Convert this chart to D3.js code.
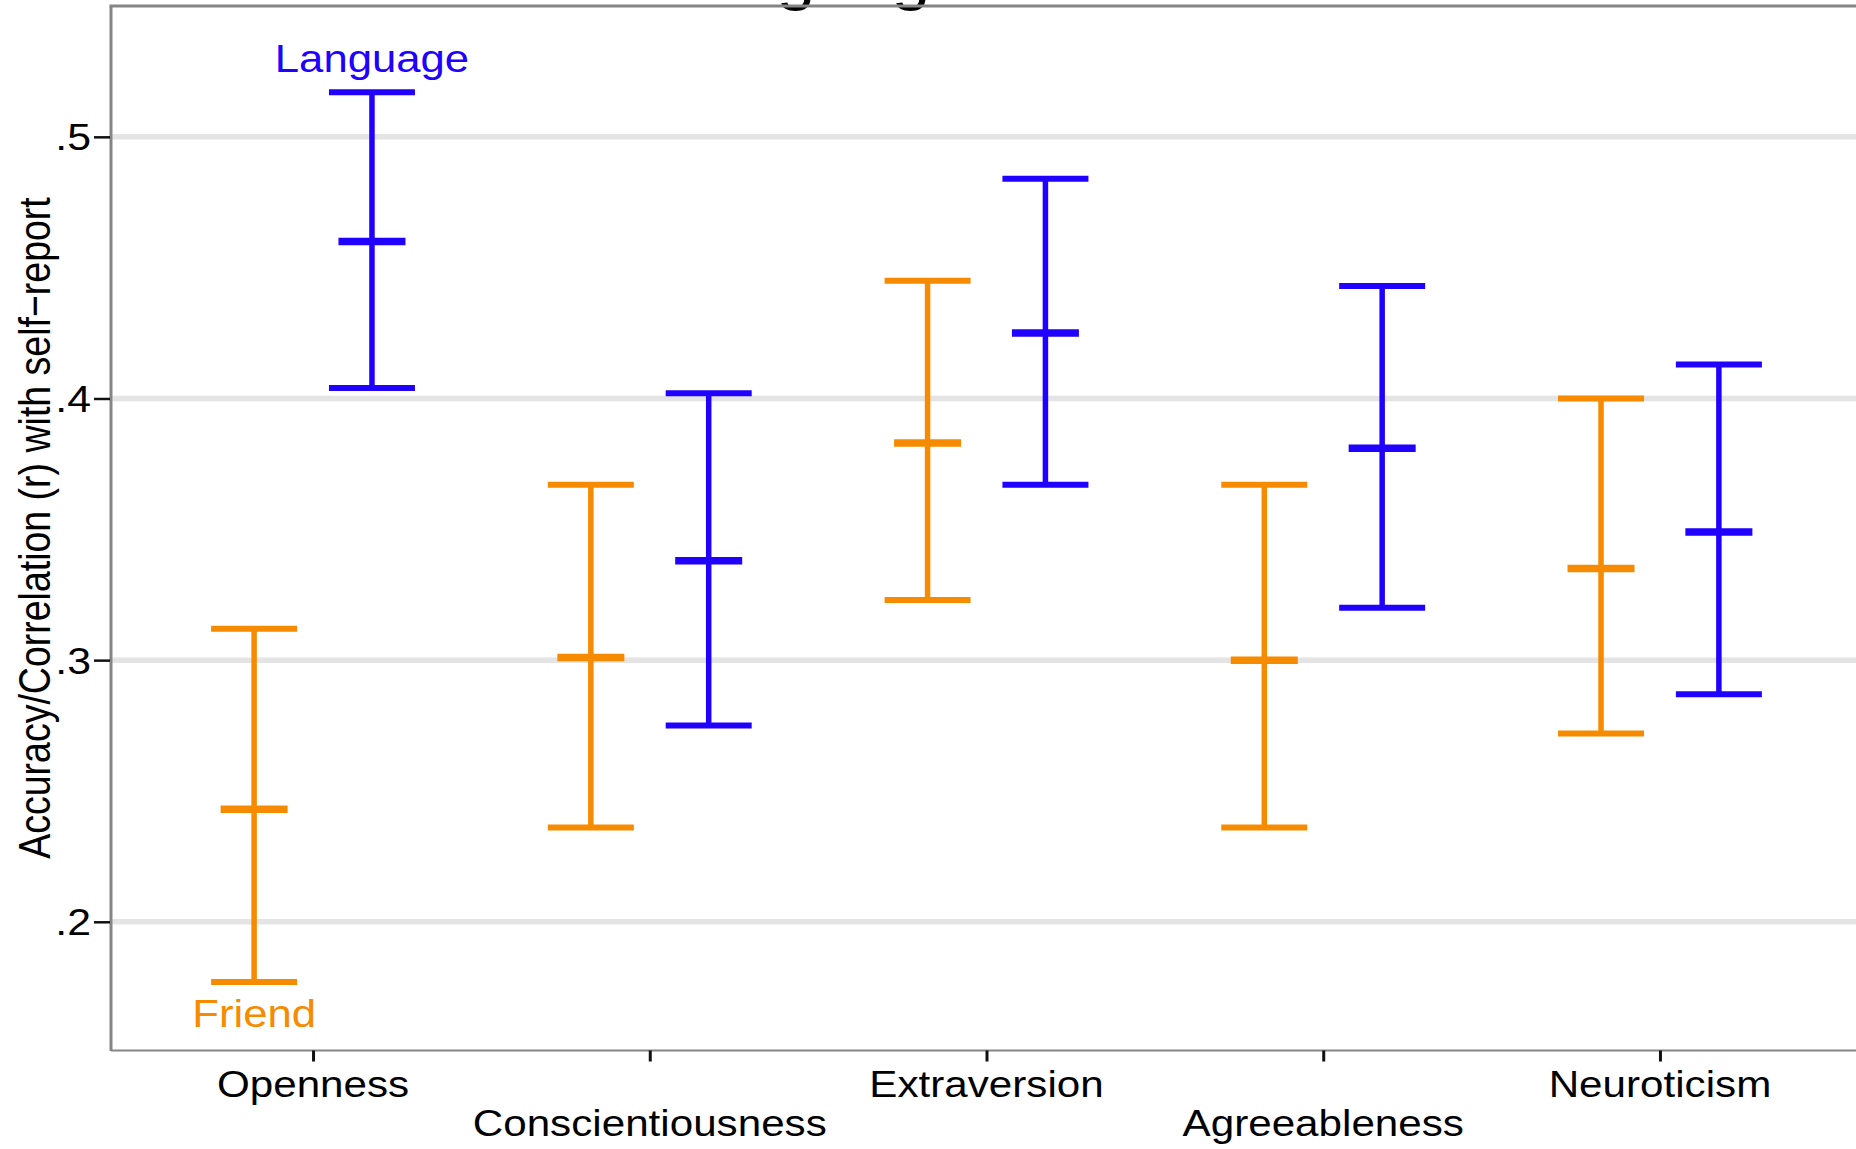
<!DOCTYPE html>
<html>
<head>
<meta charset="utf-8">
<script src="https://cdn.jsdelivr.net/npm/d3@7"></script>
<style>
  html, body { margin: 0; padding: 0; background: #fff; overflow: hidden; }
  svg { display: block; font-family: "Liberation Sans", Arial, Helvetica, sans-serif; }
</style>
</head>
<body>
<svg id="chart" width="1856" height="1149"></svg>
<script>
// Big Five traits and the two judge types
const traits = ["Openness", "Conscientiousness", "Extraversion", "Agreeableness", "Neuroticism"];

// Friend ratings: correlation with self-report and its interval
const friendMean = [0.243, 0.301, 0.383, 0.300, 0.335];
const friendLow  = [0.177, 0.236, 0.323, 0.236, 0.272];
const friendHigh = [0.312, 0.367, 0.445, 0.367, 0.400];

// Language-based predictions: correlation with self-report and its interval
const langMean = [0.460, 0.338, 0.425, 0.381, 0.349];
const langLow  = [0.404, 0.275, 0.367, 0.320, 0.287];
const langHigh = [0.517, 0.402, 0.484, 0.443, 0.413];

const yTicks = [0.2, 0.3, 0.4, 0.5];
const yTickLabels = [".2", ".3", ".4", ".5"];

const seriesNames = ["Language", "Friend"];
const colors = { Friend: "#f78b00", Language: "#2000ff" };

const svg = d3.select("#chart");

// panel extents (right edge runs just past the window)
const panel = { left: 111, right: 1862, top: 6, bottom: 1050 };
const sx = 1.14;      // horizontal text stretch
const fs = 37.5;      // base text size

const x = d3.scalePoint().domain(traits).range([panel.left, panel.right]).padding(0.6);
const y = d3.scaleLinear().domain([0.151, 0.550]).range([panel.bottom, panel.top]);
const dodge = x.step() * 0.175;

// title (sits mostly above the visible area)
svg.append("text")
  .attr("transform", `translate(976,-1) scale(1.15,1)`)
  .attr("text-anchor", "middle")
  .attr("font-size", 60)
  .attr("fill", "#000")
  .text("Language vs. Friend");

// gridlines
svg.append("g").selectAll("line").data(yTicks).join("line")
  .attr("x1", panel.left).attr("x2", panel.right)
  .attr("y1", d => y(d)).attr("y2", d => y(d))
  .attr("stroke", "#e4e4e4").attr("stroke-width", 5.5);

// panel frame
const frame = svg.append("g").attr("stroke", "#858585").attr("fill", "none");
frame.append("line").attr("x1", panel.left - 1.5).attr("x2", panel.right).attr("y1", panel.top).attr("y2", panel.top).attr("stroke-width", 3);
frame.append("line").attr("x1", panel.left).attr("x2", panel.left).attr("y1", panel.top).attr("y2", panel.bottom + 1).attr("stroke-width", 3);
frame.append("line").attr("x1", panel.left).attr("x2", panel.right).attr("y1", panel.bottom + 0.5).attr("y2", panel.bottom + 0.5).attr("stroke-width", 2);
frame.append("line").attr("x1", panel.right).attr("x2", panel.right).attr("y1", panel.top).attr("y2", panel.bottom).attr("stroke-width", 3);

// y axis ticks and labels
const yAxis = d3.axisLeft(y).tickValues(yTicks).tickSize(16).tickPadding(0)
  .tickFormat((d, i) => yTickLabels[i]);
const gy = svg.append("g").attr("transform", `translate(${panel.left - 1},0)`).call(yAxis);
gy.select(".domain").remove();
gy.selectAll(".tick line").attr("stroke", "#111").attr("stroke-width", 2.5);
gy.selectAll(".tick text")
  .attr("x", null).attr("dy", null)
  .attr("transform", `translate(-19,13) scale(${sx},1)`)
  .attr("font-size", fs).attr("font-family", null).attr("fill", "#000");

// x axis ticks
const xAxis = d3.axisBottom(x).tickSize(11).tickFormat("");
const gx = svg.append("g").attr("transform", `translate(0,${panel.bottom + 0.5})`).call(xAxis);
gx.select(".domain").remove();
gx.selectAll(".tick line").attr("stroke", "#111").attr("stroke-width", 3);

// staggered category labels
svg.append("g").selectAll("text").data(traits).join("text")
  .attr("transform", (d, i) => `translate(${x(d)},${i % 2 === 0 ? 1097 : 1136}) scale(1.125,1)`)
  .attr("text-anchor", "middle")
  .attr("font-size", fs)
  .attr("fill", "#000")
  .text(d => d);

// y axis title
svg.append("text")
  .attr("transform", `translate(50,${(panel.top + panel.bottom) / 2}) scale(1.2,1) rotate(-90)`)
  .attr("text-anchor", "middle")
  .attr("font-size", fs)
  .attr("fill", "#000")
  .text("Accuracy/Correlation (r) with self\u2212report");

// error bars
const series = [
  { name: "Friend", offset: -dodge, mean: friendMean, low: friendLow, high: friendHigh },
  { name: "Language", offset: dodge, mean: langMean, low: langLow, high: langHigh }
];
const capW = 86, midW = 67;

series.forEach(s => {
  const rows = traits.map((t, i) => ({ t, cx: x(t) + s.offset, m: s.mean[i], lo: s.low[i], hi: s.high[i] }));
  const g = svg.append("g").attr("stroke", colors[s.name]).attr("fill", "none");
  g.selectAll("line.stem").data(rows).join("line").attr("class", "stem")
    .attr("x1", d => d.cx).attr("x2", d => d.cx)
    .attr("y1", d => y(d.hi)).attr("y2", d => y(d.lo))
    .attr("stroke-width", 5.5);
  g.selectAll("line.top").data(rows).join("line").attr("class", "top")
    .attr("x1", d => d.cx - capW / 2).attr("x2", d => d.cx + capW / 2)
    .attr("y1", d => y(d.hi)).attr("y2", d => y(d.hi))
    .attr("stroke-width", 6);
  g.selectAll("line.bottom").data(rows).join("line").attr("class", "bottom")
    .attr("x1", d => d.cx - capW / 2).attr("x2", d => d.cx + capW / 2)
    .attr("y1", d => y(d.lo)).attr("y2", d => y(d.lo))
    .attr("stroke-width", 6);
  g.selectAll("line.mid").data(rows).join("line").attr("class", "mid")
    .attr("x1", d => d.cx - midW / 2).attr("x2", d => d.cx + midW / 2)
    .attr("y1", d => y(d.m)).attr("y2", d => y(d.m))
    .attr("stroke-width", 7.5);
});

// series labels beside the Openness bars
const first = traits[0];
svg.append("text")
  .attr("transform", `translate(${x(first) + dodge},72) scale(1.15,1)`)
  .attr("text-anchor", "middle").attr("font-size", 38)
  .attr("fill", colors.Language).text(seriesNames[0]);
svg.append("text")
  .attr("transform", `translate(${x(first) - dodge},1027) scale(1.15,1)`)
  .attr("text-anchor", "middle").attr("font-size", 38)
  .attr("fill", colors.Friend).text(seriesNames[1]);
</script>
</body>
</html>
